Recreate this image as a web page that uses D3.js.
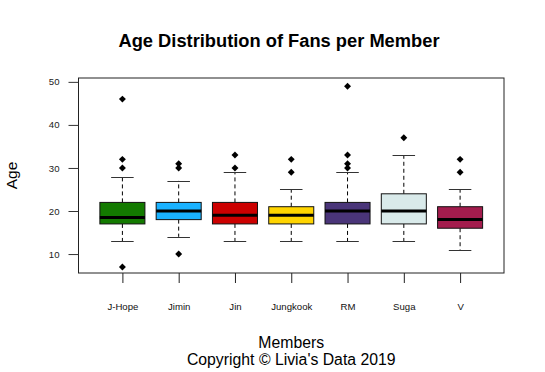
<!DOCTYPE html>
<html>
<head>
<meta charset="utf-8">
<script src="https://cdn.jsdelivr.net/npm/d3@7"></script>
<style>
  html, body { margin: 0; padding: 0; background: #fff; }
  svg { display: block; font-family: "Liberation Sans", Arial, Helvetica, sans-serif; }
</style>
</head>
<body>
<svg id="chart" width="545" height="372"></svg>
<script>
// five-number summaries, plus outliers
const members = ["J-Hope", "Jimin", "Jin", "Jungkook", "RM", "Suga", "V"];
const lowerWhisker = [13, 14, 13, 13, 13, 13, 11];
const q1 = [17, 18, 17, 17, 17, 17, 16];
const medians = [18.5, 20, 19, 19, 20, 20, 18];
const q3 = [22, 22, 22, 21, 22, 24, 21];
const upperWhisker = [28, 27, 29, 25, 29, 33, 25];
const outliers = [
  [7, 30, 32, 46],
  [10, 30, 31],
  [30, 33],
  [29, 32],
  [30, 31, 33, 49],
  [37],
  [29, 32]
];
const fills = ["#137a00", "#1ab2ff", "#cc0000", "#ffd400", "#4a3579", "#d9eaea", "#a31c4d"];
const yTicks = [10, 20, 30, 40, 50];

const svg = d3.select("#chart");
const plot = { left: 78.5, right: 504, top: 78, bottom: 273 };

const x = d3.scalePoint()
  .domain(members)
  .range([plot.left, plot.right])
  .padding(0.78);

const y = d3.scaleLinear()
  .domain([5.6, 50.9])
  .range([plot.bottom, plot.top]);

const boxW = x.step() * 0.8;
const capW = boxW / 2;

const data = members.map((m, i) => ({
  name: m, lo: lowerWhisker[i], q1: q1[i], med: medians[i],
  q3: q3[i], hi: upperWhisker[i], out: outliers[i], fill: fills[i]
}));

// boxes
const g = svg.append("g").selectAll("g")
  .data(data)
  .join("g")
  .attr("transform", d => `translate(${x(d.name)},0)`);

// whiskers (dashed)
g.append("line")
  .attr("y1", d => y(d.q3)).attr("y2", d => y(d.hi))
  .attr("stroke", "#000").attr("stroke-dasharray", "4,3");
g.append("line")
  .attr("y1", d => y(d.q1)).attr("y2", d => y(d.lo))
  .attr("stroke", "#000").attr("stroke-dasharray", "4,3");

// caps
g.selectAll(".cap")
  .data(d => [d.lo, d.hi])
  .join("line")
  .attr("class", "cap")
  .attr("x1", -capW / 2).attr("x2", capW / 2)
  .attr("y1", v => Math.round(y(v)) + 0.5).attr("y2", v => Math.round(y(v)) + 0.5)
  .attr("stroke", "#333");

g.append("rect")
  .attr("x", -boxW / 2)
  .attr("width", boxW)
  .attr("y", d => y(d.q3))
  .attr("height", d => y(d.q1) - y(d.q3))
  .attr("fill", d => d.fill)
  .attr("stroke", "#111");

g.append("line")
  .attr("x1", -boxW / 2).attr("x2", boxW / 2)
  .attr("y1", d => y(d.med)).attr("y2", d => y(d.med))
  .attr("stroke", "#000").attr("stroke-width", 3);

// outlier points, pch 18 style diamonds
const diamond = d3.symbol().type(d3.symbolSquare).size(24);
g.selectAll(".out")
  .data(d => d.out)
  .join("path")
  .attr("class", "out")
  .attr("d", diamond)
  .attr("transform", v => `translate(0,${y(v)}) rotate(45)`)
  .attr("fill", "#000");

// frame
svg.append("rect")
  .attr("x", plot.left).attr("y", plot.top)
  .attr("width", plot.right - plot.left)
  .attr("height", plot.bottom - plot.top)
  .attr("fill", "none").attr("stroke", "#222");

// axes
const yAxis = svg.append("g")
  .attr("transform", `translate(${plot.left},0)`)
  .call(d3.axisLeft(y).tickValues(yTicks).tickSize(10).tickPadding(9));
yAxis.select(".domain").remove();
yAxis.selectAll("line").attr("stroke", "#333");
yAxis.selectAll("text").attr("font-size", 9.6).attr("fill", "#222").attr("font-family", null);

const xAxis = svg.append("g")
  .attr("transform", `translate(0,${plot.bottom})`)
  .call(d3.axisBottom(x).tickSize(10).tickPadding(20));
xAxis.select(".domain").remove();
xAxis.selectAll("line").attr("stroke", "#222");
xAxis.selectAll("text").attr("font-size", 9.6).attr("fill", "#111").attr("font-family", null);

// titles
svg.append("text")
  .attr("x", 279).attr("y", 47)
  .attr("text-anchor", "middle")
  .attr("font-size", 17.5).attr("font-weight", "bold")
  .attr("textLength", 321).attr("lengthAdjust", "spacingAndGlyphs")
  .text("Age Distribution of Fans per Member");

svg.append("text")
  .attr("transform", `translate(16.5,${(plot.top + plot.bottom) / 2}) rotate(-90)`)
  .attr("text-anchor", "middle")
  .attr("font-size", 15.5)
  .text("Age");

const cx = (plot.left + plot.right) / 2;
svg.append("text")
  .attr("x", cx).attr("y", 348)
  .attr("text-anchor", "middle")
  .attr("font-size", 15.8)
  .text("Members");

svg.append("text")
  .attr("x", cx).attr("y", 365)
  .attr("text-anchor", "middle")
  .attr("font-size", 15.8)
  .text("Copyright © Livia's Data 2019");
</script>
</body>
</html>
